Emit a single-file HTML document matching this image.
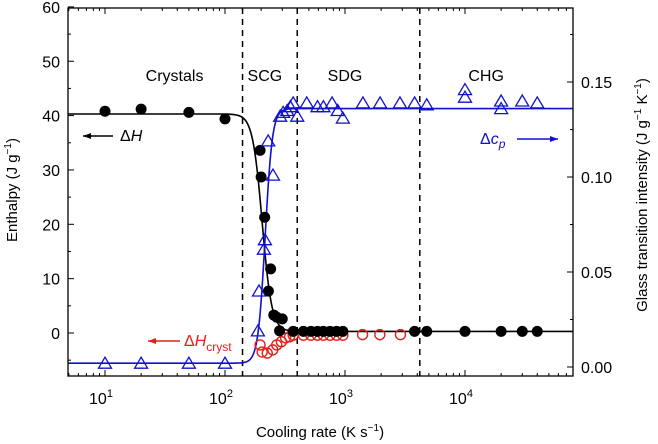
<!DOCTYPE html>
<html><head><meta charset="utf-8"><style>
body{margin:0;background:#fff;overflow:hidden;}
svg{display:block;font-family:"Liberation Sans",Arial,sans-serif;}
</style></head><body>
<svg id="chart" width="658" height="444" viewBox="0 0 658 444" xmlns="http://www.w3.org/2000/svg"></svg>
<script>
// ---- data ----
const hRates = [10,20,50,100,196,200,214,240,230,255,270,300,285,370,450,520,590,660,750,850,960,3800,4800,10000,20000,30000,40000];
const hValues = [40.8,41.2,40.6,39.4,33.6,28.7,21.3,11.8,7.7,3.3,2.9,2.6,0.4,0.3,0.3,0.3,0.3,0.3,0.3,0.3,0.3,0.3,0.3,0.3,0.3,0.3,0.3];
const crRates = [196,204,225,250,270,295,320,345,370,450,520,590,660,750,850,960,1400,1950,2900];
const crValues = [-2.2,-3.5,-3.7,-3.1,-2.2,-1.6,-0.9,-0.7,-0.4,-0.4,-0.4,-0.4,-0.4,-0.4,-0.4,-0.4,-0.3,-0.3,-0.3];
const cpRates = [10,20,50,100,188,192,211,215,251,229,288,305,330,350,370,400,480,590,660,780,870,960,1410,1960,2870,3800,4800,10000,10000,20000,20000,30000,40000];
const cpValues = [0.002,0.002,0.002,0.002,0.019,0.040,0.062,0.067,0.101,0.119,0.132,0.134,0.135,0.137,0.139,0.132,0.139,0.137,0.137,0.139,0.135,0.131,0.139,0.139,0.139,0.139,0.138,0.146,0.142,0.140,0.136,0.140,0.139];
const regionBounds = [140,400,4200];
const regionLabels = ["Crystals","SCG","SDG","CHG"];
const regionLabelRates = [38,215,1000,15000];
const leftTicks = [0,10,20,30,40,50,60];
const rightTicks = [0.00,0.05,0.10,0.15];
const xDecades = [1,2,3,4];
// fit model parameters
const hFit = [0.3,40.0,2.31,0.04];
const cpFit = [0.002,0.134,2.335,0.03];

const X0=68,X1=573,Y0=8,Y1=376;
const LMIN=0.69,LMAX=4.9;
const xs = r => 105 + (Math.log10(r)-1)*120;
const yl = v => 333 - v*5.435;
const yr = v => 367 - v*1900;
const NS="http://www.w3.org/2000/svg";
const svg=document.getElementById('chart');
function mk(tag,attrs,parent){const e=document.createElementNS(NS,tag);for(const k in attrs)e.setAttribute(k,attrs[k]);(parent||svg).appendChild(e);return e;}

const defs=mk('defs',{});const cp=mk('clipPath',{id:'clip'},defs);mk('rect',{x:X0,y:Y0,width:X1-X0,height:Y1-Y0},cp);

regionBounds.forEach(b=>{
  const l=mk('line',{x1:xs(b),x2:xs(b),y1:Y0,y2:Y1,stroke:'#000','stroke-width':1.5,'stroke-dasharray':'6,5'});
  
  
});
regionLabels.forEach((t,i)=>{
  const e=mk('text',{x:xs(regionLabelRates[i]),y:81,'text-anchor':'middle','font-size':16});
  e.textContent=t;
  
  
});

function curve(fn,yf,color,name){
  let d='';
  for(let L=LMIN;L<=LMAX;L+=0.005){const x=xs(Math.pow(10,L));d+=(d?'L':'M')+x.toFixed(1)+','+yf(fn(L)).toFixed(1);}
  const p=mk('path',{d:d,fill:'none',stroke:color,'stroke-width':1.6,'clip-path':'url(#clip)'});
  
  
}
curve(L=>hFit[0]+hFit[1]/(1+Math.exp((L-hFit[2])/hFit[3])),yl,'#000','enthalpy-fit-line');
curve(L=>cpFit[0]+cpFit[1]/(1+Math.exp(-(L-cpFit[2])/cpFit[3])),yr,'#1010d0','cp-fit-line');

crRates.forEach((r,i)=>{
  const c=mk('circle',{cx:xs(r),cy:yl(crValues[i]),r:5,fill:'none',stroke:'#e0201c','stroke-width':1.4});
  
  
});
hRates.forEach((r,i)=>{
  const c=mk('circle',{cx:xs(r),cy:yl(hValues[i]),r:5.5,fill:'#000'});
  
  
});
cpRates.forEach((r,i)=>{
  const x=xs(r),y=yr(cpValues[i]);
  const t=mk('polygon',{points:`${x},${y-6} ${x-6.5},${y+5} ${x+6.5},${y+5}`,fill:'none',stroke:'#1010d0','stroke-width':1.3});
  
  
});

const fr=mk('rect',{x:X0,y:Y0,width:X1-X0,height:Y1-Y0,fill:'none',stroke:'#000','stroke-width':1.3});



for(let v=-5;v<=60;v+=5){
  const len=(v%10===0)?6:3;
  mk('line',{x1:X0,x2:X0+len,y1:yl(v),y2:yl(v),stroke:'#000','stroke-width':1});
}
leftTicks.forEach(v=>{
  const e=mk('text',{x:X0-8,y:yl(v)+6,'text-anchor':'end','font-size':16});
  e.textContent=v;
  
  
});
for(let v=0;v<=0.176;v+=0.025){
  const len=(Math.round(v*1000)%50===0)?6:3;
  mk('line',{x1:X1,x2:X1-len,y1:yr(v),y2:yr(v),stroke:'#000','stroke-width':1});
}
rightTicks.forEach(v=>{
  const e=mk('text',{x:X1+8,y:yr(v)+6,'text-anchor':'start','font-size':16});
  e.textContent=v.toFixed(2);
  
  
});
for(let d=0;d<=4;d++){for(let m=1;m<10;m++){
  const r=m*Math.pow(10,d);const L=Math.log10(r);if(L<LMIN||L>LMAX)continue;
  const x=xs(r),len=m===1?6:3;
  mk('line',{x1:x,x2:x,y1:Y1,y2:Y1-len,stroke:'#000','stroke-width':1});
  mk('line',{x1:x,x2:x,y1:Y0,y2:Y0+len,stroke:'#000','stroke-width':1});
}}
xDecades.forEach(d=>{
  const e=mk('text',{x:xs(Math.pow(10,d))-4,y:404,'text-anchor':'middle','font-size':16});
  e.innerHTML='10<tspan dy="-7" font-size="11">'+d+'</tspan>';
  
  
});
</script>
<script>
const s2=document.getElementById('chart');
s2.insertAdjacentHTML('beforeend',`
<defs>
<marker id="ab" markerWidth="8" markerHeight="6" refX="8" refY="3" orient="auto" markerUnits="userSpaceOnUse"><path d="M0,0 L8,3 L0,6 z" fill="#000"/></marker>
<marker id="ar" markerWidth="8" markerHeight="6" refX="8" refY="3" orient="auto" markerUnits="userSpaceOnUse"><path d="M0,0 L8,3 L0,6 z" fill="#e0201c"/></marker>
<marker id="abl" markerWidth="8" markerHeight="6" refX="8" refY="3" orient="auto" markerUnits="userSpaceOnUse"><path d="M0,0 L8,3 L0,6 z" fill="#1010d0"/></marker>
</defs>
<g>
<line x1="113" y1="136" x2="83" y2="136" stroke="#000" stroke-width="1.4" marker-end="url(#ab)"/>
<text x="120" y="141" font-size="16">Δ<tspan font-style="italic">H</tspan></text></g>
<g>
<line x1="180" y1="341" x2="148" y2="341" stroke="#e0201c" stroke-width="1.4" marker-end="url(#ar)"/>
<text x="184" y="346" font-size="16" fill="#e0201c">Δ<tspan font-style="italic">H</tspan><tspan dy="5" font-size="12">cryst</tspan></text></g>
<g>
<text x="480" y="144" font-size="16" fill="#1010d0">Δ<tspan font-style="italic">c</tspan><tspan dy="4" font-size="12" font-style="italic">p</tspan></text>
<line x1="517" y1="139" x2="558" y2="139" stroke="#1010d0" stroke-width="1.4" marker-end="url(#abl)"/></g>
<text x="320" y="437" text-anchor="middle" font-size="15">Cooling rate (K s<tspan dy="-6" font-size="10">−1</tspan><tspan dy="6">)</tspan></text>
<text transform="translate(17,190) rotate(-90)" text-anchor="middle" font-size="15">Enthalpy (J g<tspan dy="-6" font-size="10">−1</tspan><tspan dy="6">)</tspan></text>
<text transform="translate(647,195) rotate(-90)" text-anchor="middle" font-size="15">Glass transition intensity (J g<tspan dy="-6" font-size="10">−1</tspan><tspan dy="6"> K</tspan><tspan dy="-6" font-size="10">−1</tspan><tspan dy="6">)</tspan></text>
`);
</script>
</body></html>
